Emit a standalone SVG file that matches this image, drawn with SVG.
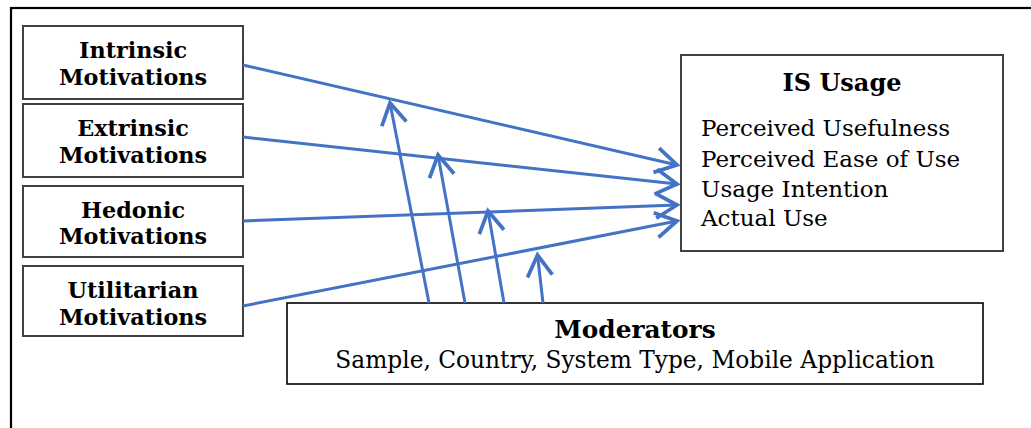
<svg xmlns="http://www.w3.org/2000/svg" width="1031" height="428" viewBox="0 0 1031 428">
<style>
.box{fill:#fff;stroke:#404040;stroke-width:2}
.mbox{fill:#fff;stroke:#000;stroke-width:1.6}
.t{font-family:"DejaVu Serif","Liberation Serif",serif;fill:#000}
.b{font-weight:bold}
.c{text-anchor:middle}
.lb{font-size:22.3px}
.conn{stroke:#4472C4;stroke-width:3;fill:none;marker-end:url(#ah)}
</style>
<defs>
<marker id="ah" markerUnits="userSpaceOnUse" markerWidth="30" markerHeight="30" viewBox="-20 -12 22 24" refX="0" refY="0" orient="auto">
<path d="M-17,-10 L0,0 L-17,10" fill="none" stroke="#4472C4" stroke-width="3" stroke-linejoin="miter"/>
</marker>
</defs>
<rect x="0" y="0" width="1031" height="428" fill="#fff"/>
<rect x="11" y="8" width="1040" height="440" fill="none" stroke="#000" stroke-width="2.2"/>
<g id="intrinsic">
<rect class="box" x="23" y="26" width="220" height="73"/>
<text class="t b c lb" x="133" y="58">Intrinsic</text>
<text class="t b c lb" x="133" y="85">Motivations</text>
</g>
<g id="extrinsic">
<rect class="box" x="23" y="104" width="220" height="73"/>
<text class="t b c lb" x="133" y="136">Extrinsic</text>
<text class="t b c lb" x="133" y="163">Motivations</text>
</g>
<g id="hedonic">
<rect class="box" x="23" y="186" width="220" height="71"/>
<text class="t b c lb" x="133" y="218">Hedonic</text>
<text class="t b c lb" x="133" y="244">Motivations</text>
</g>
<g id="utilitarian">
<rect class="box" x="23" y="266" width="220" height="70"/>
<text class="t b c lb" x="133" y="298">Utilitarian</text>
<text class="t b c lb" x="133" y="325">Motivations</text>
</g>
<g id="is-usage">
<rect class="box" x="681" y="55" width="322" height="196"/>
<text class="t b c" x="842" y="91" font-size="24">IS Usage</text>
<text class="t" x="701" y="136" font-size="23">Perceived Usefulness</text>
<text class="t" x="701" y="167" font-size="23">Perceived Ease of Use</text>
<text class="t" x="701" y="197" font-size="23">Usage Intention</text>
<text class="t" x="701" y="226" font-size="23">Actual Use</text>
</g>
<g id="moderators">
<rect class="mbox" x="287" y="303" width="696" height="81"/>
<text class="t b c" x="635" y="338" font-size="24.8">Moderators</text>
<text class="t c" x="635" y="368" font-size="23.3">Sample, Country, System Type, Mobile Application</text>
</g>
<g id="connectors">
<line class="conn" x1="243" y1="65" x2="677" y2="165"/>
<line class="conn" x1="243" y1="137" x2="677" y2="184"/>
<line class="conn" x1="243" y1="221" x2="677" y2="205"/>
<line class="conn" x1="243" y1="306" x2="677" y2="221"/>
<line class="conn" x1="429" y1="303" x2="390" y2="103"/>
<line class="conn" x1="465" y1="303" x2="438" y2="155"/>
<line class="conn" x1="504" y1="303" x2="488" y2="211"/>
<line class="conn" x1="543" y1="303" x2="537.5" y2="255"/>
</g>
</svg>
